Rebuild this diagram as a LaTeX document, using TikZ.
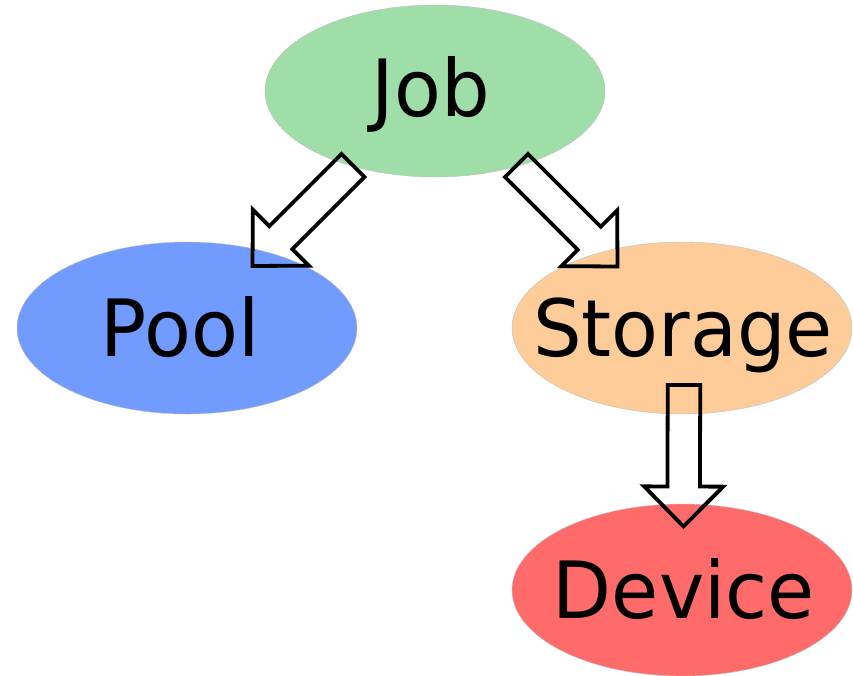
\documentclass[tikz,border=0pt]{standalone}
\usepackage{fontspec}
\setmainfont{DejaVu Sans}
\usetikzlibrary{shapes.geometric,calc}

\definecolor{jobgreen}{RGB}{160,222,169}
\definecolor{poolblue}{RGB}{114,155,255}
\definecolor{storeorange}{RGB}{253,204,153}
\definecolor{devred}{RGB}{255,107,107}

% hollow block arrow from #1 (tail middle) to #2 (tip)
\newcommand\blockarrow[2]{%
  \draw[blockline]
    ($(#1)!16.25pt!90:(#2)$)
    -- ($($(#2)!40pt!(#1)$)!16.25pt!-90:(#1)$)
    -- ($($(#2)!40pt!(#1)$)!39.5pt!-90:(#1)$)
    -- (#2)
    -- ($($(#2)!40pt!(#1)$)!39.5pt!90:(#1)$)
    -- ($($(#2)!40pt!(#1)$)!16.25pt!90:(#1)$)
    -- ($(#1)!16.25pt!-90:(#2)$)
    -- cycle;}

% slightly narrowed label text
\newcommand\narrow[1]{\scalebox{0.97}[1]{#1}}

\begin{document}
\begin{tikzpicture}[x=1pt,y=-1pt,
  blob/.style={ellipse, minimum width=340pt, minimum height=172pt,
    inner sep=0pt, draw=black!25, line width=0.4pt},
  lbl/.style={inner sep=0pt, text height=57.7pt, text depth=0pt,
    font=\fontsize{79}{95}\selectfont},
  blockline/.style={draw=black, line width=3.8pt, line join=miter}]
  \useasboundingbox (0,0) rectangle (853,675);

  % ellipses
  \node[blob, fill=jobgreen]    (job)     at (435,91)  {};
  \node[blob, fill=poolblue]    (pool)    at (187,328) {};
  \node[blob, fill=storeorange] (storage) at (682,328) {};
  \node[blob, fill=devred]      (device)  at (682,590) {};

  % labels
  \node[lbl] (jobtxt)     at ($(job.center)+(-4,-3)$)    {\narrow{Job}};
  \node[lbl] (pooltxt)    at ($(pool.center)+(-7,0)$)    {\narrow{Pool}};
  \node[lbl] (storagetxt) at ($(storage.center)+(1,0)$)  {\narrow{Storage}};
  \node[lbl] (devicetxt)  at ($(device.center)+(2,0)$)   {\narrow{Device}};

  % arrow end points
  \coordinate (a1tail) at ($(job.center)+(-82,74.5)$);
  \coordinate (a1tip)  at ($(pool.center)+(65.5,-62)$);
  \coordinate (a2tail) at ($(job.center)+(81.5,74.5)$);
  \coordinate (a2tip)  at ($(storage.center)+(-64.5,-61.5)$);
  \coordinate (a3tail) at ($(storage.center)+(2,57)$);
  \coordinate (a3tip)  at ($(device.center)+(1.5,-63.5)$);

  % hollow block arrows
  \blockarrow{a1tail}{a1tip}
  \blockarrow{a2tail}{a2tip}
  \blockarrow{a3tail}{a3tip}
\end{tikzpicture}
\end{document}
